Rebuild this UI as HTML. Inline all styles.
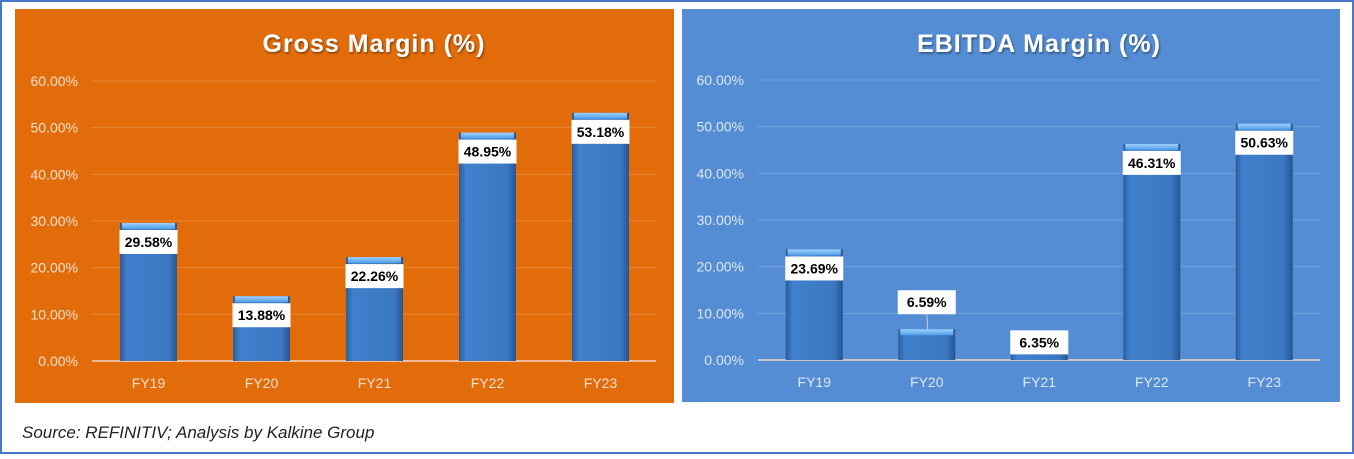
<!DOCTYPE html>
<html><head><meta charset="utf-8"><style>
html,body{margin:0;padding:0;background:#fff;}
body{width:1354px;height:454px;overflow:hidden;position:relative;font-family:"Liberation Sans",sans-serif;}
</style></head><body>
<svg id="svg" width="1354" height="454" xmlns="http://www.w3.org/2000/svg">
<defs>
<linearGradient id="barg" x1="0" x2="1" y1="0" y2="0">
<stop offset="0" stop-color="#2a5d9c"/><stop offset="0.12" stop-color="#4080cc"/><stop offset="0.85" stop-color="#3c78c2"/><stop offset="1" stop-color="#24558f"/></linearGradient>
<linearGradient id="capg" x1="0" x2="0" y1="0" y2="1"><stop offset="0" stop-color="#9fd2ff"/><stop offset="1" stop-color="#4e9ce8"/></linearGradient>
<filter id="sh"><feDropShadow dx="1" dy="1.5" stdDeviation="1" flood-color="#000" flood-opacity="0.45"/></filter>
</defs>
<rect x="1" y="1" width="1352" height="452" fill="none" stroke="#4a78c8" stroke-width="2"/>
<rect x="15" y="9" width="659" height="394" fill="#e36c0a"/>
<rect x="682" y="9" width="658" height="393" fill="#548dd4"/>
<text x="22" y="438" font-size="17" font-style="italic" fill="#222" font-family="Liberation Sans, sans-serif">Source: REFINITIV; Analysis by Kalkine Group</text>
<g id="c1"></g><g id="c2"></g>
</svg>
<script>
const categories = ["FY19","FY20","FY21","FY22","FY23"];
const grossValues = [29.58,13.88,22.26,48.95,53.18];
const ebitdaValues = [23.69,6.59,6.35,46.31,50.63];
const yTicks = [0,10,20,30,40,50,60];
const NS="http://www.w3.org/2000/svg";
function mk(tag,attrs,parent){const e=document.createElementNS(NS,tag);for(const k in attrs)e.setAttribute(k,attrs[k]);parent.appendChild(e);return e;}
function draw(g,cfg,values,title,prefix){
  const yS=v=>cfg.y0-(v/60)*(cfg.y0-cfg.y60);
  const xS=i=>cfg.x0+cfg.step*(i+0.5);
  const t=mk('text',{x:(cfg.x0+cfg.x1)/2,y:52,'text-anchor':'middle','font-size':25,'font-weight':'bold',fill:'#fff',filter:'url(#sh)','letter-spacing':'1'},g);
  t.textContent=title;
  
  
  yTicks.forEach(v=>{
    const y=yS(v);
    const l=mk('line',{x1:cfg.x0,x2:cfg.x1,y1:y,y2:y,stroke:v===0?'#f0d8c8':'rgba(255,255,255,0.18)','stroke-width':v===0?1.5:1},g);
    
    
    const tx=mk('text',{x:cfg.x0-14,y:y+5,'text-anchor':'end','font-size':14,fill:'rgba(255,255,255,0.8)'},g);
    tx.textContent=v.toFixed(2)+'%';
    
    
  });
  values.forEach((v,i)=>{
    const cx=xS(i),w=57,top=yS(v),base=yS(0);
    const b=mk('rect',{x:cx-w/2,y:top,width:w,height:base-top,fill:'url(#barg)'},g);
    
    
    const c=mk('rect',{x:cx-w/2+2,y:top,width:w-4,height:Math.min(6,base-top),fill:'url(#capg)'},g);
    
    
    const xl=mk('text',{x:cx,y:base+27,'text-anchor':'middle','font-size':14,fill:'rgba(255,255,255,0.8)'},g);
    xl.textContent=categories[i];
    
    
    let ly=top+19;
    if(v<10){ly=top+12;}
    if(v<8&&i===1&&prefix==='ebitda'){ly=top-27;
      const ld=mk('line',{x1:cx,x2:cx+1,y1:ly+12,y2:top,stroke:'#ccd',"stroke-width":1},g);
      
      }
    const bx=mk('rect',{x:cx-29,y:ly-12,width:58,height:24,fill:'#fff'},g);
    
    
    const vt=mk('text',{x:cx,y:ly+5,'text-anchor':'middle','font-size':14,'font-weight':'bold',fill:'#000'},g);
    vt.textContent=v.toFixed(2)+'%';
    
    
  });
}
draw(document.getElementById('c1'),{x0:92,x1:656,step:113,y0:361,y60:81},grossValues,'Gross Margin (%)','gross');
draw(document.getElementById('c2'),{x0:758,x1:1320,step:112.5,y0:360,y60:80},ebitdaValues,'EBITDA Margin (%)','ebitda');
</script>
</body></html>
